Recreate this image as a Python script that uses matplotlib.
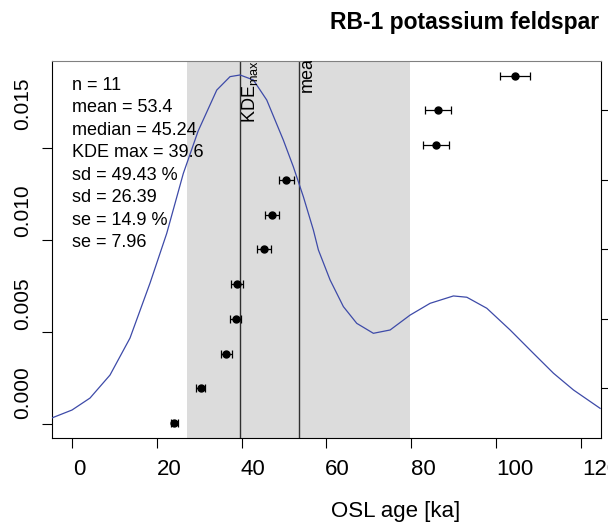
import matplotlib
matplotlib.use("Agg")
import matplotlib.pyplot as plt
from matplotlib.transforms import blended_transform_factory, ScaledTranslation

plt.rcParams['font.family'] = ['Liberation Sans', 'DejaVu Sans']
plt.rcParams['mathtext.fontset'] = 'custom'
plt.rcParams['mathtext.rm'] = 'Liberation Sans'
plt.rcParams['mathtext.it'] = 'Liberation Sans'

# ---------------- data ----------------
title = "RB-1 potassium feldspar"
xlabel = "OSL age [ka]"

ages = [24.1, 30.3, 36.4, 38.6, 38.9, 45.24, 47.1, 50.5, 85.8, 86.3, 104.5]
age_err = [0.8, 1.0, 1.3, 1.3, 1.4, 1.6, 1.65, 1.75, 3.05, 3.05, 3.55]
index = list(range(1, len(ages) + 1))

kde_x = [-4.8, -0.07, 4.18, 8.90, 13.62, 18.35, 22.29, 26.21, 29.7, 34.1,
         37.24, 39.6, 42.74, 45.9, 49.82, 52.18, 54.55, 56.91, 58.09, 60.85,
         63.99, 67.15, 71.07, 75.02, 79.74, 84.46, 89.96, 93.13, 97.85,
         103.35, 108.85, 113.58, 118.3, 124.6]
kde_y = [0.00033, 0.00076, 0.00141, 0.00266, 0.00467, 0.00766, 0.01036,
         0.01362, 0.01592, 0.01815, 0.01888, 0.01897, 0.0187, 0.01761,
         0.01543, 0.01398, 0.01235, 0.01054, 0.00946, 0.00783, 0.00638,
         0.00547, 0.00493, 0.00511, 0.00592, 0.00656, 0.00696, 0.00689,
         0.00629, 0.00511, 0.00384, 0.00276, 0.00185, 0.00085]

kde_max = 39.6
mean_val = 53.4
sd_abs = 26.39

stats_lines = ["n = 11", "mean = 53.4", "median = 45.24", "KDE max = 39.6",
               "sd = 49.43 %", "sd = 26.39", "se = 14.9 %", "se = 7.96"]

x_ticks = [0, 20, 40, 60, 80, 100, 120]
x_ticklabels = ["0", "20", "40", "60", "80", "100", "120"]
y_ticks = [0.0, 0.005, 0.010, 0.015]
y_ticklabels = ["0.000", "0.005", "0.010", "0.015"]
idx_ticks = [2, 4, 6, 8, 10]

# ---------------- figure ----------------
W, H = 608, 526
fig = plt.figure(figsize=(W / 100, H / 100), dpi=100)
L, R, B, T = 51.7, 601, 438.3, 61
ax = fig.add_axes([L / W, 1 - B / H, (R - L) / W, (B - T) / H])

ax.set_xlim(-4.86, 124.8)
ax.set_ylim(-0.000777, 0.01973)

# mean +/- sd band
ax.axvspan(mean_val - sd_abs, mean_val + sd_abs, color='#dcdcdc', lw=0, zorder=0)
ax.axvline(kde_max, color='#303030', lw=1.0, zorder=1)
ax.axvline(mean_val, color='#303030', lw=1.0, zorder=1)

ax.plot(kde_x, kde_y, color='#3d4aa8', lw=0.9, zorder=3)

ax.text(kde_max, 0.836, r"KDE$_{\mathrm{max}}$", rotation=90, ha='left', va='bottom',
        transform=blended_transform_factory(ax.transData, ax.transAxes),
        fontsize=13, clip_on=True, zorder=4)
ax.text(mean_val, 0.918, "mean", rotation=90, ha='left', va='bottom',
        transform=blended_transform_factory(ax.transData, ax.transAxes),
        fontsize=13, clip_on=True, zorder=4)

for i, line in enumerate(stats_lines):
    ax.text(0.0375, 0.936 - i * 22.5 / (B - T), line, transform=ax.transAxes,
            ha='left', va='center', fontsize=13, zorder=5)

# x axis: ticks, labels drawn manually (they sit slightly right of the ticks)
ax.set_xticks(x_ticks)
ax.set_xticklabels([])
ax.tick_params(axis='x', direction='out', length=7.5, width=0.8)
xlabel_shift_px = [7, 12, 11, 11, 12, 19, 20]
for v, lab, sh in zip(x_ticks, x_ticklabels, xlabel_shift_px):
    tr = blended_transform_factory(ax.transData, ax.transAxes) + \
        ScaledTranslation(sh / 100, 0, fig.dpi_scale_trans)
    ax.text(v, (B - 459) / (B - T), lab, transform=tr, ha='center', va='top',
            fontsize=16, clip_on=False)

# y axis (density), labels drawn manually as rotated text
ax.set_yticks(y_ticks)
ax.set_yticklabels([])
ax.tick_params(axis='y', direction='out', length=7.5, width=0.8)
label_shift_px = [31, 28, 29, 44]
for v, lab, sh in zip(y_ticks, y_ticklabels, label_shift_px):
    tr = blended_transform_factory(ax.transAxes, ax.transData) + \
        ScaledTranslation(0, sh / 100, fig.dpi_scale_trans)
    ax.text((23 - L) / (R - L), v, lab, transform=tr, rotation=90,
            ha='center', va='center', fontsize=15, clip_on=False)

for side in ['left', 'bottom', 'right']:
    ax.spines[side].set_color('black')
    ax.spines[side].set_linewidth(0.8)
ax.spines['top'].set_color('#808080')
ax.spines['top'].set_linewidth(0.8)

# second axis for the individual values
ax2 = ax.twinx()
ax2.set_ylim(0.56, 11.42)
ax2.errorbar(ages, index, xerr=age_err, fmt='o', color='black', ms=5,
             elinewidth=0.9, capsize=3, capthick=0.9, zorder=6)
ax2.set_yticks(idx_ticks)
ax2.set_yticklabels([])
ax2.tick_params(axis='y', direction='out', length=7.5, width=0.8)
for s in ax2.spines.values():
    s.set_visible(False)

fig.text(465 / W, 1 - 22 / H, title, ha='center', va='center',
         fontsize=16.5, fontweight='bold')
fig.text(396 / W, 1 - 512 / H, xlabel, ha='center', va='center', fontsize=16)

fig.savefig("out.png", dpi=100)
